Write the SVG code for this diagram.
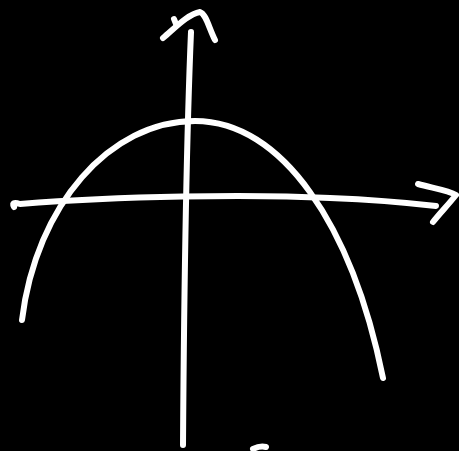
<svg xmlns="http://www.w3.org/2000/svg" width="459" height="451" viewBox="0 0 459 451">
<style>.s{fill:none;stroke:#fff;stroke-width:6;stroke-linecap:round;stroke-linejoin:round}</style>
<rect width="459" height="451" fill="#000"/>
<g id="connectors">
<path class="s" d="M183,445 C184,300 186,150 191,32"/>
<path class="s" d="M163,38 C175,28 188,14 200,12 C206,14 209,28 215,40"/>
<path class="s" d="M176,24 L174,19"/>
<path class="s" d="M14,207 C12,203 14,202 20,204 C120,196 250,194 330,198 C380,200 410,203 436,206"/>
<path class="s" d="M418,184 C432,188 448,190 456,195 C448,205 440,213 433,222"/>
</g>
<g id="parabola">
<path class="s" d="M22,320 C36,205 110,121 195,121 C282,121 352,225 383,378"/>
</g>
<path class="s" d="M253,449 C257,447 262,446 266,447" stroke-width="4"/>
</svg>
